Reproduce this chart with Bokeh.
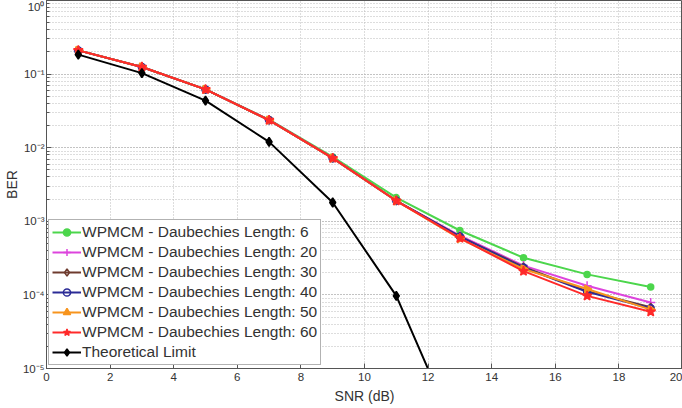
from bokeh.plotting import figure
from bokeh.embed import file_html
from bokeh.resources import INLINE
from bokeh.models import (Range1d, SingleIntervalTicker, LogTicker,
                          CustomJSTickFormatter, Legend)

snr = [1, 3, 5, 7, 9, 11, 13, 15, 17, 19]
ber_len6  = [0.21, 0.125, 0.062, 0.0240, 0.0075, 0.0021, 7.5e-4, 3.2e-4, 1.9e-4, 1.28e-4]
ber_len20 = [0.21, 0.125, 0.062, 0.0238, 0.0073, 0.0019, 6.4e-4, 2.5e-4, 1.33e-4, 7.9e-5]
ber_len30 = [0.21, 0.125, 0.062, 0.0237, 0.0072, 0.0019, 6.2e-4, 2.4e-4, 1.12e-4, 6.8e-5]
ber_len40 = [0.21, 0.125, 0.062, 0.0237, 0.0072, 0.0019, 6.2e-4, 2.35e-4, 1.10e-4, 6.6e-5]
ber_len50 = [0.21, 0.125, 0.062, 0.0237, 0.0072, 0.0019, 5.8e-4, 2.25e-4, 1.20e-4, 6.3e-5]
ber_len60 = [0.21, 0.125, 0.062, 0.0237, 0.0072, 0.0019, 5.9e-4, 2.1e-4, 9.7e-5, 5.9e-5]
snr_theory = [1, 3, 5, 7, 9, 11, 13]
ber_theory = [0.184, 0.103, 0.0435, 0.012, 0.0018, 9.7e-5, 1.0e-6]

labels = ["WPMCM - Daubechies Length: 6", "WPMCM - Daubechies Length: 20",
          "WPMCM - Daubechies Length: 30", "WPMCM - Daubechies Length: 40",
          "WPMCM - Daubechies Length: 50", "WPMCM - Daubechies Length: 60",
          "Theoretical Limit"]

FONT = "Liberation Sans"

p = figure(width=682, height=408, output_backend="svg", toolbar_location=None,
           y_axis_type="log", x_range=Range1d(0, 20), y_range=Range1d(1e-5, 1),
           min_border_left=44, min_border_right=0, min_border_top=0,
           min_border_bottom=40)
p.background_fill_color = "white"
p.border_fill_color = "white"
p.outline_line_color = "#555555"
p.outline_line_width = 1

p.xaxis.ticker = SingleIntervalTicker(interval=2)
p.yaxis.ticker = LogTicker(desired_num_ticks=6, num_minor_ticks=10)
p.yaxis.formatter = CustomJSTickFormatter(code="""
const sup = {"-":"\u207b","0":"\u2070","1":"\u00b9","2":"\u00b2","3":"\u00b3",
             "4":"\u2074","5":"\u2075","6":"\u2076","7":"\u2077","8":"\u2078","9":"\u2079"};
const e = Math.round(Math.log10(tick));
return "10" + String(e).split("").map(c => sup[c]).join("");
""")

for ax in (p.xaxis, p.yaxis):
    ax.axis_line_color = "#555555"
    ax.major_tick_in = 5
    ax.major_tick_out = 0
    ax.minor_tick_in = 3
    ax.minor_tick_out = 0
    ax.major_tick_line_color = "#555555"
    ax.minor_tick_line_color = "#555555"
    ax.major_label_text_font = FONT
    ax.major_label_text_font_size = "11.5px"
    ax.major_label_text_color = "#333333"
    ax.axis_label_text_font = FONT
    ax.axis_label_text_font_size = "14px"
    ax.axis_label_text_font_style = "normal"
    ax.axis_label_text_color = "#333333"
p.xaxis.minor_tick_line_color = None
p.xaxis.axis_label = "SNR (dB)"
p.yaxis.axis_label = "BER"
p.xaxis.axis_label_standoff = 4
p.yaxis.axis_label_standoff = 0
p.xaxis.major_label_standoff = 4
p.yaxis.major_label_standoff = 2

p.xgrid.grid_line_color = "#bbbbbb"
p.xgrid.grid_line_dash = "1 2"
p.ygrid.grid_line_color = "#bbbbbb"
p.ygrid.grid_line_dash = "1 2"
p.ygrid.minor_grid_line_color = "#bbbbbb"
p.ygrid.minor_grid_line_dash = "1 2"

series = [
    (snr, ber_len6, "#4cd64c", "circle", True, 6),
    (snr, ber_len20, "#dd44dd", "cross", False, 9),
    (snr, ber_len30, "#6e3b2e", "diamond", False, 8),
    (snr, ber_len40, "#2b2b96", "circle", False, 7),
    (snr, ber_len50, "#f7941d", "triangle", True, 8),
    (snr, ber_len60, "#ff2a2a", "star", True, 10),
    (snr_theory, ber_theory, "#000000", "diamond", True, 9),
]

items = []
for (xs, ys, color, marker, filled, size), lab in zip(series, labels):
    r1 = p.line(xs, ys, line_color=color, line_width=2)
    kw = dict(fill_color=color) if filled else dict(fill_color=None)
    if marker == "triangle":
        r2 = p.scatter(xs, ys, marker=marker, size=size, line_color=color,
                       line_width=1.5, angle=-1.5708, **kw)
    else:
        r2 = p.scatter(xs, ys, marker=marker, size=size, line_color=color,
                       line_width=1.5, **kw)
    items.append((lab, [r1, r2]))

legend = Legend(items=items, location=(2, 3))
legend.label_text_font = FONT
legend.label_text_font_size = "15.5px"
legend.label_text_color = "#333333"
legend.label_height = 18
legend.glyph_height = 18
legend.glyph_width = 29
legend.label_standoff = 1
legend.spacing = 2
legend.padding = 3
legend.margin = 0
legend.border_line_color = "#666666"
legend.border_line_width = 1
legend.background_fill_color = "white"
legend.background_fill_alpha = 1
p.add_layout(legend, "center")

open("out.html", "w").write(file_html(p, INLINE))
